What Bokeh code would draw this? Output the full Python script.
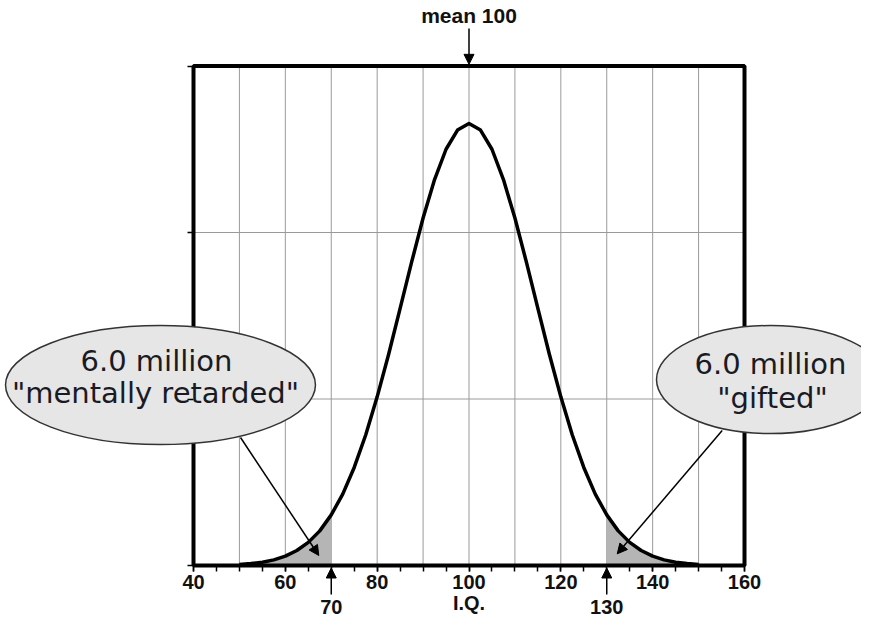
from bokeh.plotting import figure
from bokeh.models import Range1d, FixedTicker, Label, Arrow, NormalHead
from bokeh.embed import file_html
from bokeh.resources import INLINE

# ---- data ----
iq = [50, 52.5, 55, 57.5, 60, 62.5, 65, 67.5, 70, 72.5, 75, 77.5, 80, 82.5, 85, 87.5,
      90, 92.5, 95, 97.5, 100, 102.5, 105, 107.5, 110, 112.5, 115, 117.5, 120, 122.5,
      125, 127.5, 130, 132.5, 135, 137.5, 140, 142.5, 145, 147.5, 150]
density = [0.06, 0.12, 0.20, 0.34, 0.56, 0.90, 1.39, 2.08, 3.04, 4.29, 5.89, 7.84, 10.13,
           12.69, 15.44, 18.22, 20.87, 23.18, 25.00, 26.15, 26.55, 26.15, 25.00, 23.18,
           20.87, 18.22, 15.44, 12.69, 10.13, 7.84, 5.89, 4.29, 3.04, 2.08, 1.39, 0.90,
           0.56, 0.34, 0.20, 0.12, 0.06]
low_cut = 70
high_cut = 130
mean_iq = 100
x_min, x_max = 40, 160
y_min, y_max = 0, 30
x_tick_values = [40, 60, 80, 100, 120, 140, 160]
x_minor_ticks = [40, 45, 50, 55, 60, 65, 70, 75, 80, 85, 90, 95, 100, 105, 110, 115,
                 120, 125, 130, 135, 140, 145, 150, 155, 160]
x_grid_values = [50, 60, 70, 80, 90, 100, 110, 120, 130, 140, 150]
y_tick_values = [0, 10, 20, 30]
y_grid_values = [10, 20]
left_text = ["6.0 million", "\"mentally retarded\""]
right_text = ["6.0 million", "\"gifted\""]
x_label = "I.Q."

FONT = "Liberation Sans"
CALLOUT_FONT = "DejaVu Sans"

# the frame fills the whole canvas so that callouts outside the box are not clipped
p = figure(width=861, height=622, x_range=Range1d(-2.033, 185.48), y_range=Range1d(-3.423, 33.934),
           output_backend="svg", toolbar_location=None,
           min_border_left=0, min_border_right=0, min_border_top=0, min_border_bottom=0)
p.background_fill_color = "white"
p.border_fill_color = "white"
p.outline_line_color = None
p.xgrid.visible = False
p.ygrid.visible = False

# grid lines inside the box
p.segment(x0=x_grid_values, y0=[y_min] * len(x_grid_values), x1=x_grid_values,
          y1=[y_max] * len(x_grid_values), line_color="#9a9a9a", line_width=1)
p.segment(x0=[x_min] * len(y_grid_values), y0=y_grid_values, x1=[x_max] * len(y_grid_values),
          y1=y_grid_values, line_color="#9a9a9a", line_width=1)

# shaded tails
lo_idx = [i for i, v in enumerate(iq) if v <= low_cut]
hi_idx = [i for i, v in enumerate(iq) if v >= high_cut]
p.varea(x=[iq[i] for i in lo_idx], y1=0, y2=[density[i] for i in lo_idx], fill_color="#b5b5b5")
p.varea(x=[iq[i] for i in hi_idx], y1=0, y2=[density[i] for i in hi_idx], fill_color="#b5b5b5")

# curve
p.line(iq, density, line_width=3.5, line_color="black", line_join="round")

# box
p.quad(left=[x_min], right=[x_max], bottom=[y_min], top=[y_max], fill_color=None,
       line_color="black", line_width=4)

# axes at the box edges
p.xaxis.fixed_location = y_min
p.xaxis.bounds = (x_min, x_max)
p.yaxis.fixed_location = x_min
p.yaxis.bounds = (y_min, y_max)
p.xaxis.ticker = FixedTicker(ticks=x_tick_values, minor_ticks=x_minor_ticks)
p.yaxis.ticker = FixedTicker(ticks=y_tick_values)
p.yaxis.major_label_overrides = {v: "" for v in y_tick_values}
for ax in (p.xaxis, p.yaxis):
    ax.axis_line_color = None
    ax.major_tick_in = 0
    ax.major_tick_out = 6
    ax.minor_tick_in = 0
    ax.minor_tick_out = 6
    ax.major_tick_line_width = 1.5
    ax.minor_tick_line_width = 1.5
    ax.major_tick_line_color = "black"
    ax.minor_tick_line_color = "black"
p.yaxis.minor_tick_line_color = None
p.xaxis.major_label_text_font = FONT
p.xaxis.major_label_text_font_style = "bold"
p.xaxis.major_label_text_font_size = "20px"
p.xaxis.major_label_text_color = "#111111"
p.xaxis.major_label_standoff = 3

# callout ellipses
p.ellipse(x=[32.81], y=[10.84], width=[67.5], height=[7.15], fill_color="#e6e6e6",
          line_color="#333333", line_width=1.5)
p.ellipse(x=[165.66], y=[11.17], width=[49.65], height=[6.49], fill_color="#e6e6e6",
          line_color="#333333", line_width=1.5)

def txt(x, y, s, size, bold=False, color="#151515", font=FONT):
    p.add_layout(Label(x=x, y=y, text=s, text_align="center", text_baseline="middle",
                       text_font=font, text_font_size=size,
                       text_font_style="bold" if bold else "normal", text_color=color))

txt(31.94, 12.31, left_text[0], "29px", font=CALLOUT_FONT, color="#1a1a24")
txt(31.72, 10.39, left_text[1], "29px", font=CALLOUT_FONT, color="#1a1a24")
txt(165.66, 12.13, right_text[0], "29px", font=CALLOUT_FONT, color="#1a1a24")
txt(166.1, 10.09, right_text[1], "29px", font=CALLOUT_FONT, color="#1a1a24")

def arrow(x0, y0, x1, y1):
    p.add_layout(Arrow(x_start=x0, y_start=y0, x_end=x1, y_end=y1,
                       line_width=1.5, line_color="black",
                       end=NormalHead(size=10, fill_color="black", line_color="black")))

# callout arrows
arrow(50.24, 7.69, 67.29, 0.60)
arrow(155.14, 8.11, 132.28, 0.70)
# mean arrow
arrow(mean_iq, 32.25, mean_iq, 30.1)
txt(mean_iq, 33.03, "mean " + str(mean_iq), "21px", bold=True, color="#111111")
# cut arrows
arrow(low_cut, -1.74, low_cut, -0.15)
arrow(high_cut, -1.74, high_cut, -0.15)
txt(low_cut, -2.52, str(low_cut), "20px", bold=True, color="#111111")
txt(high_cut, -2.52, str(high_cut), "20px", bold=True, color="#111111")
txt(mean_iq, -2.28, x_label, "20px", bold=True, color="#111111")

open("out.html", "w").write(file_html(p, INLINE))
